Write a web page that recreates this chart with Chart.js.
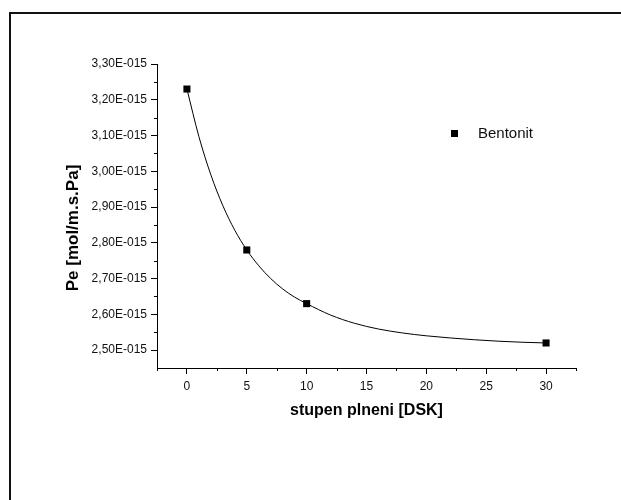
<!DOCTYPE html>
<html>
<head>
<meta charset="utf-8">
<script src="https://cdn.jsdelivr.net/npm/chart.js@4"></script>
<style>
    body { margin: 0; background: #fff; }
    #frame {
        position: absolute; left: 9px; top: 12px; width: 700px; height: 600px;
        border-top: 2px solid #111; border-left: 2px solid #111;
    }
    #chart-container { position: absolute; left: 0; top: 0; }
</style>
</head>
<body>
<div id="frame"></div>
<canvas id="chart-container" width="621" height="500"></canvas>
<script>
// Pe values are given in units of 1E-015 mol/m.s.Pa
const fill = [0, 5, 10, 30];
const pe = [3.23, 2.78, 2.63, 2.52];

// fitted decay curve, read along its length
const fitX = [0, 1, 2, 3, 4, 5, 6, 7, 8, 9, 10, 12, 14, 16, 18, 20, 22, 24, 26, 28, 30];
const fitY = [3.23, 3.097, 2.99, 2.904, 2.835, 2.78, 2.736, 2.70, 2.671, 2.648, 2.63,
              2.598, 2.575, 2.559, 2.548, 2.540, 2.534, 2.529, 2.525, 2.522, 2.52];

const xMajor = [0, 5, 10, 15, 20, 25, 30];
const xMinor = [-2.5, 2.5, 7.5, 12.5, 17.5, 22.5, 27.5, 32.5];
const yMajor = [2.5, 2.6, 2.7, 2.8, 2.9, 3.0, 3.1, 3.2, 3.3];
const yMinor = [2.55, 2.65, 2.75, 2.85, 2.95, 3.05, 3.15, 3.25];

const yTitle = 'Pe [mol/m.s.Pa]';
const fontFamily = 'Arial, "Liberation Sans", sans-serif';
const tickFont = { family: fontFamily, size: 12 };

// short minor ticks, the y title and the legend entry
const extras = {
    id: 'extras',
    afterDraw(chart) {
        const ctx = chart.ctx;
        const xs = chart.scales.x, ys = chart.scales.y;
        const area = chart.chartArea;
        ctx.save();
        ctx.strokeStyle = '#000';
        ctx.lineWidth = 1;
        ctx.beginPath();
        xMinor.forEach(v => {
            const px = Math.round(xs.getPixelForValue(v)) + 0.5;
            ctx.moveTo(px, area.bottom);
            ctx.lineTo(px, area.bottom + 3);
        });
        yMinor.forEach(v => {
            const py = Math.round(ys.getPixelForValue(v)) + 0.5;
            ctx.moveTo(area.left, py);
            ctx.lineTo(area.left - 3, py);
        });
        ctx.stroke();

        ctx.translate(73, 228);
        ctx.rotate(-Math.PI / 2);
        ctx.font = 'bold 17px ' + fontFamily;
        ctx.textAlign = 'center';
        ctx.textBaseline = 'middle';
        ctx.fillStyle = '#000';
        ctx.fillText(yTitle, 0, 0);
        ctx.setTransform(1, 0, 0, 1, 0, 0);

        ctx.fillRect(451, 130, 7, 7);
        ctx.font = '15px ' + fontFamily;
        ctx.textAlign = 'left';
        ctx.fillStyle = '#111';
        ctx.fillText(chart.data.datasets[1].label, 478, 134);
        ctx.restore();
    }
};

const ctx = document.getElementById('chart-container').getContext('2d');
new Chart(ctx, {
    type: 'scatter',
    data: {
        datasets: [{
            label: 'fit',
            data: fitX.map((x, i) => ({ x: x, y: fitY[i] })),
            showLine: true,
            borderColor: '#000',
            borderWidth: 1,
            pointRadius: 0,
            cubicInterpolationMode: 'monotone'
        }, {
            label: 'Bentonit',
            data: fill.map((x, i) => ({ x: x, y: pe[i] })),
            pointStyle: 'rect',
            pointRadius: 5,
            backgroundColor: '#000',
            borderColor: '#000',
            borderWidth: 0
        }]
    },
    options: {
        responsive: false,
        animation: false,
        layout: { padding: { left: 0, top: 64, right: 45, bottom: 0 } },
        plugins: {
            legend: { display: false },
            tooltip: { enabled: false }
        },
        scales: {
            x: {
                type: 'linear',
                min: -2.5,
                max: 32.5,
                afterBuildTicks: s => { s.ticks = xMajor.map(v => ({ value: v })); },
                afterFit: s => { s.height = 132; },
                border: { color: '#000', width: 1 },
                grid: { drawOnChartArea: false, tickLength: 6, tickColor: '#000' },
                ticks: { color: '#111', font: tickFont, padding: 5, maxRotation: 0 },
                title: {
                    display: true,
                    text: 'stupen plneni [DSK]',
                    color: '#000',
                    font: { family: fontFamily, size: 16, weight: 'bold' },
                    padding: { top: 0, bottom: 80 }
                }
            },
            y: {
                min: 2.45,
                max: 3.3,
                afterBuildTicks: s => { s.ticks = yMajor.map(v => ({ value: v })); },
                afterFit: s => { s.width = 157; },
                border: { color: '#000', width: 1 },
                grid: { drawOnChartArea: false, tickLength: 6, tickColor: '#000' },
                ticks: {
                    color: '#111',
                    font: tickFont,
                    padding: 4,
                    callback: v => v.toFixed(2).replace('.', ',') + 'E-015'
                }
            }
        }
    },
    plugins: [extras]
});
</script>
</body>
</html>
